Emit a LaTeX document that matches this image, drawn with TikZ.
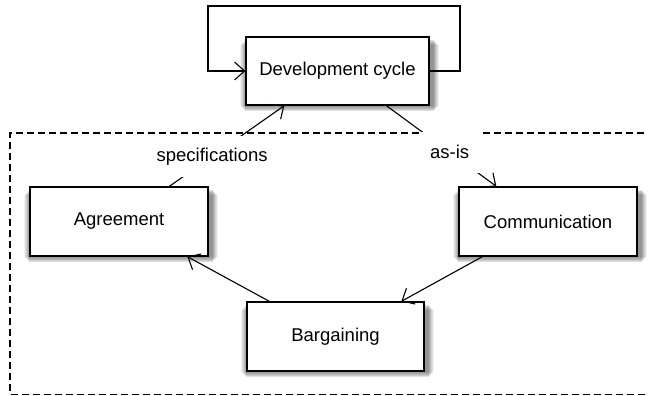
\documentclass[tikz,border=0pt]{standalone}
\usepackage{fontspec}
\setmainfont{Liberation Sans}
\usetikzlibrary{arrows.meta}
\begin{document}
\begin{tikzpicture}[x=1pt,y=-1pt,
  box/.style={draw=black, line width=1.3pt, fill=white, rectangle, inner sep=0pt,
    font=\fontsize{18.5}{22}\selectfont},
  conn/.style={line width=1.1pt, -{Straight Barb[length=10pt,width=18pt,line width=1.1pt]}},
  lab/.style={fill=white, inner sep=0pt, font=\fontsize{18.5}{22}\selectfont},
  frame/.style={line width=1.1pt, dash pattern=on 7pt off 4pt},
  dashpiece/.style={line width=1.1pt}
]
\useasboundingbox (0,0) rectangle (649,396);
% nodes
\node[box, minimum width=183pt, minimum height=68pt] (dev) at (337.5,71) {Development cycle};
\node[box, minimum width=178pt, minimum height=69pt] (agr) at (119,221.5) {Agreement};
\node[box, minimum width=178pt, minimum height=69pt] (com) at (548,221.5) {Communication};
\node[box, minimum width=177pt, minimum height=69pt] (bar) at (335.5,336.5) {Bargaining};
% shadows (soft gray bands)
\foreach \n in {dev,agr,com,bar}{
  \foreach \k/\o in {6/0.06,5/0.07,4/0.08,3/0.09,2/0.10,1/0.12}{
    \fill[black, opacity=\o] ([xshift=-\k pt+1pt, yshift=\k pt-6pt]\n.south west) rectangle ([xshift=\k pt+3pt, yshift=-\k pt-3pt]\n.north east);
  }
}
% boxes on top of the shadows
\node[box, minimum width=183pt, minimum height=68pt] at (dev) {Development cycle};
\node[box, minimum width=178pt, minimum height=69pt] at (agr) {Agreement};
\node[box, minimum width=178pt, minimum height=69pt] at (com) {Communication};
\node[box, minimum width=177pt, minimum height=69pt] at (bar) {Bargaining};
% loop
\coordinate (tr) at (460,6);
\coordinate (tl) at (208,6);
\draw[conn] (dev.east) -| (tr) -- (tl) |- (dev.west);
% specifications
\draw[conn] ([xshift=140pt]agr.north west) -- node[lab, pos=0.372, minimum width=124pt, minimum height=41pt] (spec) {specifications} ([xshift=39pt]dev.south west);
% as-is
\draw[conn] ([xshift=141pt]dev.south west) -- node[lab, pos=0.575, minimum width=61pt, minimum height=41pt] (asis) {as-is} ([xshift=38pt]com.north west);
% cycle edges
\draw[conn] ([xshift=24pt]com.south west) -- ([xshift=155pt]bar.north west);
\draw[conn] ([xshift=23pt]bar.north west) -- ([xshift=158pt]agr.south west);
% dashed frame (top line interrupted by the as-is label)
\coordinate (ftl) at (10,133);
\coordinate (ftr) at (648,133);
\coordinate (fbl) at (10,394.5);
\coordinate (fbr) at (648,394.5);
\draw[frame] (asis.west |- ftl) -- (ftl) -- (fbl) -- (fbr);
\foreach \i in {0,...,14}{
  \draw[dashpiece] ([xshift=\i*11pt+2pt]asis.east |- ftr) -- ++(7,0);
}
\end{tikzpicture}
\end{document}
